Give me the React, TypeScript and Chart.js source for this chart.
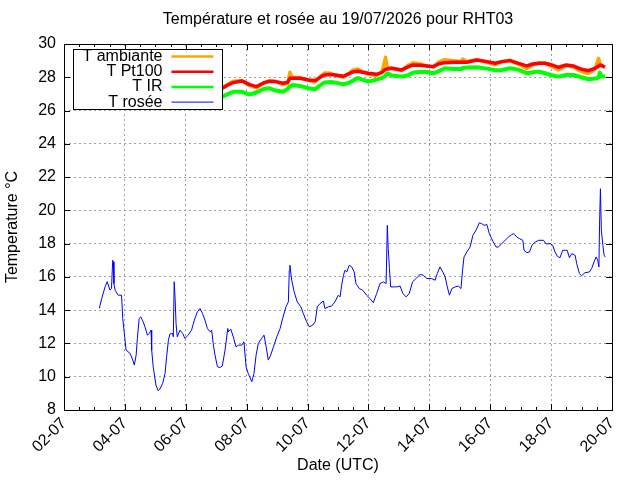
import React, { useRef, useEffect } from 'react';
import { Chart, registerables } from 'chart.js';

Chart.register(...registerables);

const chartTitle = 'Température et rosée au 19/07/2026 pour RHT03';
const xTitle = 'Date (UTC)';
const yTitle = 'Temperature °C';
const monthSuffix = '-07';

// jours de juillet (fractionnaires)
const tempDays = [
  3.2, 4.0, 5.0, 6.0, 7.0, 7.2, 7.4, 7.56, 7.84, 8.1, 8.33, 8.55, 8.75, 8.95, 9.2, 9.35, 9.42, 9.5,
  9.75, 10.03, 10.25, 10.4, 10.55, 10.75, 10.9, 11.18, 11.35, 11.5, 11.65, 11.8, 12.0, 12.27, 12.45,
  12.56, 12.62, 12.76, 13.09, 13.3, 13.47, 13.7, 13.92, 14.13, 14.3, 14.5, 14.79, 15.05, 15.1, 15.23,
  15.56, 15.89, 16.16, 16.38, 16.65, 16.93, 17.2, 17.4, 17.6, 17.8, 18.02, 18.24, 18.5, 18.73, 19.0,
  19.22, 19.44, 19.56, 19.6, 19.66, 19.77,
];

const ambianteValues = [
  27.4, 27.5, 27.4, 27.5, 27.3, 27.4, 27.6, 27.76, 27.8, 27.5, 27.36, 27.64, 27.78, 27.74, 27.58, 27.62, 28.3, 27.98,
  27.98, 27.82, 27.72, 28.02, 28.26, 28.24, 28.14, 28.0, 28.22, 28.44, 28.5, 28.36, 28.18, 28.1, 28.34,
  29.2, 28.56, 28.56, 28.4, 28.72, 28.86, 28.8, 28.68, 28.62, 28.9, 29.06, 29.0, 28.94, 29.1, 28.94,
  29.06, 28.9, 28.76, 28.94, 29.02, 28.78, 28.52, 28.74, 28.86, 28.84, 28.66, 28.44, 28.7, 28.62, 28.34,
  28.22, 28.5, 29.14, 28.86, 28.7, 28.62,
];

const pt100Values = [
  27.4, 27.5, 27.4, 27.5, 27.3, 27.34, 27.55, 27.68, 27.78, 27.56, 27.44, 27.66, 27.76, 27.74, 27.64, 27.7, 27.94, 27.94,
  27.94, 27.84, 27.8, 27.98, 28.14, 28.16, 28.14, 28.06, 28.2, 28.33, 28.36, 28.3, 28.24, 28.18, 28.3,
  28.48, 28.5, 28.54, 28.44, 28.62, 28.74, 28.72, 28.68, 28.64, 28.8, 28.88, 28.9, 28.9, 28.92, 28.9,
  29.04, 28.94, 28.84, 28.94, 29.0, 28.84, 28.68, 28.8, 28.84, 28.84, 28.74, 28.6, 28.74, 28.68, 28.48,
  28.4, 28.54, 28.66, 28.74, 28.7, 28.6,
];

const irValues = [
  26.9, 27.0, 26.9, 27.0, 26.8, 26.84, 27.0, 27.13, 27.13, 26.96, 27.1, 27.3, 27.34, 27.2, 27.13, 27.3, 27.45, 27.54,
  27.48, 27.34, 27.28, 27.5, 27.68, 27.72, 27.68, 27.58, 27.66, 27.8, 27.96, 27.86, 27.74, 27.86, 27.96,
  28.1, 28.24, 28.1, 28.04, 28.12, 28.28, 28.32, 28.32, 28.24, 28.36, 28.54, 28.5, 28.5, 28.56, 28.58,
  28.6, 28.52, 28.42, 28.44, 28.54, 28.46, 28.24, 28.3, 28.34, 28.24, 28.12, 28.04, 28.14, 28.14, 28.0,
  27.88, 27.92, 27.98, 28.28, 28.06, 28.04,
];

const roseeDays = [
  3.16, 3.24, 3.35, 3.42, 3.51, 3.56, 3.6, 3.62, 3.64, 3.68, 3.78, 3.89, 3.93, 3.97, 4.04, 4.17, 4.26, 4.31,
  4.37, 4.41, 4.47, 4.52, 4.6, 4.66, 4.74, 4.8, 4.86, 4.88, 4.93, 5.02, 5.09, 5.15, 5.24, 5.32, 5.37, 5.43,
  5.48, 5.57, 5.59, 5.62, 5.65, 5.68, 5.72, 5.81, 5.9, 5.97, 6.08, 6.19, 6.28, 6.38, 6.47, 6.55, 6.63, 6.71,
  6.8, 6.85, 6.9, 6.96, 7.04, 7.12, 7.2, 7.29, 7.38, 7.4, 7.48, 7.56, 7.65, 7.73, 7.84, 7.91, 7.98, 8.05,
  8.17, 8.24, 8.31, 8.38, 8.49, 8.57, 8.64, 8.71, 8.79, 8.88, 8.99, 9.1, 9.18, 9.29, 9.37, 9.4, 9.42, 9.48,
  9.56, 9.66, 9.78, 9.86, 9.97, 10.06, 10.17, 10.25, 10.32, 10.41, 10.52, 10.57, 10.68, 10.79, 10.9, 11.01,
  11.07, 11.12, 11.18, 11.23, 11.29, 11.37, 11.45, 11.53, 11.59, 11.7, 11.81, 11.94, 12.05, 12.16, 12.27,
  12.38, 12.49, 12.58, 12.62, 12.65, 12.69, 12.73, 12.82, 12.93, 13.04, 13.13, 13.24, 13.34, 13.45, 13.56,
  13.7, 13.8, 13.92, 14.08, 14.19, 14.26, 14.35, 14.44, 14.52, 14.59, 14.66, 14.74, 14.85, 14.95, 15.04,
  15.09, 15.14, 15.23, 15.34, 15.43, 15.5, 15.56, 15.64, 15.72, 15.8, 15.89, 15.97, 16.1, 16.19, 16.27,
  16.38, 16.49, 16.6, 16.71, 16.78, 16.87, 16.96, 17.07, 17.11, 17.2, 17.29, 17.37, 17.48, 17.59, 17.75,
  17.84, 17.97, 18.05, 18.13, 18.2, 18.29, 18.38, 18.46, 18.53, 18.6, 18.68, 18.79, 18.84, 18.93, 19.0,
  19.11, 19.26, 19.33, 19.41, 19.48, 19.53, 19.57, 19.59, 19.62, 19.65, 19.7, 19.74, 19.78,
];

const roseeValues = [
  14.11, 14.71, 15.41, 15.71, 15.21, 15.3, 17.0, 16.9, 15.6, 15.2, 14.9, 14.9, 13.5, 12.8, 11.6, 11.4, 11.0, 10.7,
  11.3, 12.3, 13.5, 13.6, 13.3, 13.0, 12.5, 12.6, 12.8, 11.6, 10.6, 9.5, 9.16, 9.26, 9.6, 10.2, 11.2, 12.2,
  12.57, 12.6, 12.4, 15.71, 14.7, 13.2, 12.4, 12.8, 12.6, 12.3, 12.5, 12.8, 13.4, 13.9, 14.1, 13.8, 13.4, 12.9,
  12.7, 12.8, 12.0, 11.3, 10.6, 10.55, 10.64, 11.6, 12.9, 12.7, 12.85, 12.4, 11.8, 11.9, 11.9, 12.1, 10.6, 10.2,
  9.7, 10.2, 11.3, 12.0, 12.3, 12.5, 11.8, 11.0, 11.3, 11.8, 12.4, 12.9, 13.5, 14.2, 14.5, 16.4, 16.7, 15.8,
  15.1, 14.5, 14.2, 13.8, 13.3, 13.0, 13.1, 13.3, 14.2, 14.4, 14.55, 14.1, 14.2, 14.25, 14.5, 14.9,
  14.8, 15.5, 16.1, 16.4, 16.3, 16.7, 16.6, 16.3, 15.6, 15.3, 15.2, 14.9, 14.7, 14.45, 15.0,
  15.6, 15.7, 15.6, 19.1, 17.7, 16.5, 15.4, 15.4, 15.4, 15.45, 15.0, 14.8, 15.0, 15.7, 15.9,
  16.15, 16.1, 15.9, 15.9, 15.8, 16.2, 16.6, 16.3, 16.0, 15.4, 14.9, 15.3, 15.4, 15.45, 15.3,
  16.4, 17.2, 17.5, 17.8, 18.5, 18.7, 18.9, 19.25, 19.2, 19.1, 19.15, 18.6, 18.1, 17.8, 17.8,
  18.0, 18.2, 18.4, 18.55, 18.6, 18.4, 18.3, 18.2, 17.6, 17.45, 17.5, 17.9, 18.1, 18.2, 18.2,
  17.98, 18.0, 17.9, 17.5, 17.25, 17.15, 17.6, 17.6, 17.6, 17.15, 17.4, 17.3, 16.8, 16.2, 16.07,
  16.25, 16.3, 16.5, 16.9, 17.2, 17.0, 16.6, 19.1, 21.3, 18.8, 17.9, 17.3, 17.2,
];

const xMin = 2;
const xMax = 20;
const yMin = 8;
const yMax = 30;

const fontFamily = '"Liberation Sans", Arial, sans-serif';
const fontSize = 16;

const toPoints = (days: number[], values: number[]) => days.map((d, i) => ({ x: d, y: values[i] }));

// cadre, graduations internes et légende (dessinée par-dessus les courbes, comme gnuplot)
const framePlugin = {
  id: 'gnuFrame',
  afterDatasetsDraw(chart: any) {
    const { ctx, chartArea, scales } = chart;
    const { left, right, top, bottom } = chartArea;
    const x = scales.x;
    const y = scales.y;
    ctx.save();
    ctx.strokeStyle = '#000';
    ctx.lineWidth = 1;
    ctx.beginPath();
    for (let d = xMin; d <= xMax; d += 0.5) {
      const px = Math.round(x.getPixelForValue(d)) + 0.5;
      const len = d % 2 === 0 ? 6 : 3;
      ctx.moveTo(px, bottom);
      ctx.lineTo(px, bottom - len);
      ctx.moveTo(px, top);
      ctx.lineTo(px, top + len);
    }
    for (let v = yMin; v <= yMax; v += 2) {
      const py = Math.round(y.getPixelForValue(v)) + 0.5;
      ctx.moveTo(left, py);
      ctx.lineTo(left + 6, py);
      ctx.moveTo(right, py);
      ctx.lineTo(right - 6, py);
    }
    ctx.stroke();
    ctx.strokeRect(Math.round(left) + 0.5, Math.round(top) + 0.5, Math.round(right - left), Math.round(bottom - top));

    // légende
    const bx = Math.round(left) + 9.5;
    const by = Math.round(top) + 5.5;
    const bw = 149;
    const bh = 60;
    ctx.fillStyle = '#fff';
    ctx.fillRect(bx, by, bw, bh);
    ctx.strokeRect(bx, by, bw, bh);
    ctx.font = fontSize + 'px ' + fontFamily;
    ctx.textAlign = 'right';
    ctx.textBaseline = 'middle';
    chart.data.datasets.forEach((ds: any, i: number) => {
      const ly = by + 7 + i * 15.2;
      ctx.fillStyle = '#000';
      ctx.fillText(ds.label, bx + 89, ly);
      ctx.strokeStyle = ds.borderColor;
      ctx.lineWidth = i === 3 ? 1 : 2.5;
      ctx.beginPath();
      ctx.moveTo(bx + 98, ly);
      ctx.lineTo(bx + 140, ly);
      ctx.stroke();
    });
    ctx.restore();
  },
};

const App: React.FC = () => {
  const canvasRef = useRef<HTMLCanvasElement>(null);
  const chartRef = useRef<Chart | null>(null);

  useEffect(() => {
    document.body.style.margin = '0';
    if (!canvasRef.current) return;
    if (chartRef.current) chartRef.current.destroy();
    const ctx = canvasRef.current.getContext('2d');
    if (!ctx) return;

    const font = { family: fontFamily, size: fontSize };

    chartRef.current = new Chart(ctx, {
      type: 'line',
      data: {
        datasets: [
          { label: 'T ambiante', data: toPoints(tempDays, ambianteValues), borderColor: '#ffa500', borderWidth: 3.5, order: 4 },
          { label: 'T Pt100', data: toPoints(tempDays, pt100Values), borderColor: '#ff0000', borderWidth: 3.5, order: 3 },
          { label: 'T IR', data: toPoints(tempDays, irValues), borderColor: '#00ff00', borderWidth: 4, order: 2 },
          { label: 'T rosée', data: toPoints(roseeDays, roseeValues), borderColor: '#0000ff', borderWidth: 1, order: 1 },
        ],
      },
      options: {
        animation: false,
        responsive: false,
        devicePixelRatio: 1,
        layout: { padding: { top: 0, right: 28, bottom: 0, left: 0 } },
        elements: { point: { radius: 0 }, line: { tension: 0, borderJoinStyle: 'round' } },
        plugins: {
          legend: { display: false },
          tooltip: { enabled: false },
          title: {
            display: true,
            text: chartTitle,
            fullSize: false,
            color: '#000',
            font: { ...font, weight: 'normal' },
            padding: { top: 10.4, bottom: 14.4 },
          },
        },
        scales: {
          x: {
            type: 'linear',
            min: xMin,
            max: xMax,
            afterFit: (s: any) => { s.height = 70; },
            ticks: {
              stepSize: 2,
              autoSkip: false,
              minRotation: 45,
              maxRotation: 45,
              padding: 4,
              color: '#000',
              font,
              callback: (v: any) => String(v).padStart(2, '0') + monthSuffix,
            },
            grid: { color: '#a0a0a0', lineWidth: 1, drawTicks: false },
            border: { display: false, dash: [2, 3] },
            title: {
              display: true,
              text: xTitle,
              color: '#000',
              font,
              padding: { top: 0, bottom: 4.4 },
            },
          },
          y: {
            min: yMin,
            max: yMax,
            afterFit: (s: any) => { s.width = 64; },
            ticks: {
              stepSize: 2,
              padding: 8,
              color: '#000',
              font,
            },
            grid: { color: '#a0a0a0', lineWidth: 1, drawTicks: false },
            border: { display: false, dash: [2, 3] },
            title: {
              display: true,
              text: yTitle,
              color: '#000',
              font,
              padding: { top: 3.4, bottom: 0 },
            },
          },
        },
      },
      plugins: [framePlugin],
    } as any);

    return () => {
      if (chartRef.current) {
        chartRef.current.destroy();
        chartRef.current = null;
      }
    };
  }, []);

  return (
    <div style={{ width: 640, height: 480 }}>
      <canvas ref={canvasRef} width={640} height={480} style={{ display: 'block' }}></canvas>
    </div>
  );
};

export default App;
